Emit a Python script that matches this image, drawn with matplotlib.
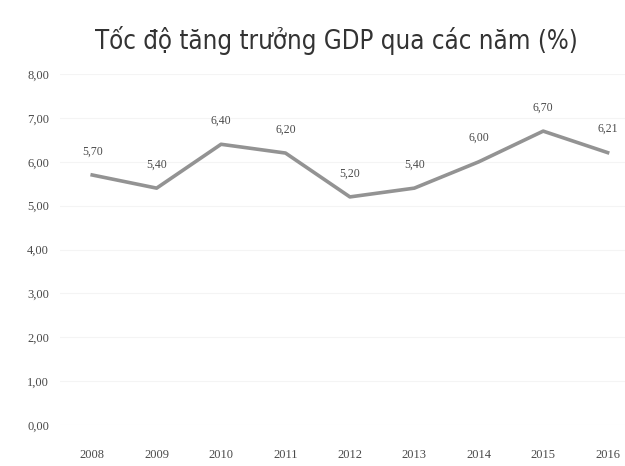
import matplotlib
matplotlib.use("Agg")
import matplotlib.pyplot as plt

# Tốc độ tăng trưởng GDP (%) theo năm
years = ["2008", "2009", "2010", "2011", "2012", "2013", "2014", "2015", "2016"]
growth = [5.70, 5.40, 6.40, 6.20, 5.20, 5.40, 6.00, 6.70, 6.21]
point_labels = ["5,70", "5,40", "6,40", "6,20", "5,20", "5,40", "6,00", "6,70", "6,21"]
y_ticks = [0, 1, 2, 3, 4, 5, 6, 7, 8]
y_tick_labels = ["0,00", "1,00", "2,00", "3,00", "4,00", "5,00", "6,00", "7,00", "8,00"]

LINE_C = "#939393"
TEXT_C = "#4a4a4a"

fig = plt.figure(figsize=(6.25, 4.66), dpi=100)
ax = fig.add_axes([0.096, 0.088, 0.904, 0.753])

x = list(range(len(years)))
ax.plot(x, growth, color=LINE_C, lw=2.6, solid_joinstyle="round")

for xi, yi, lab in zip(x, growth, point_labels):
    ax.annotate(lab, (xi, yi), xytext=(0, 17), textcoords="offset points",
                ha="center", va="center", fontsize=8.5,
                family="Liberation Serif", color=TEXT_C)

ax.set_ylim(0, 8)
ax.set_xlim(-0.5, 8.27)
ax.set_yticks(y_ticks)
ax.set_yticklabels(y_tick_labels, family="Liberation Serif", fontsize=9, color=TEXT_C)
ax.set_xticks(x)
ax.set_xticklabels(years, family="Liberation Serif", fontsize=9, color=TEXT_C)
ax.tick_params(axis="both", length=0)
ax.tick_params(axis="x", pad=17)
ax.tick_params(axis="y", pad=8)
ax.grid(axis="y", color="#f4f4f4", lw=0.8)
for s in ax.spines.values():
    s.set_visible(False)

fig.text(0.538, 0.913, "Tốc độ tăng trưởng GDP qua các năm (%)",
         ha="center", va="center", fontsize=18.5, color="#333333",
         family="DejaVu Sans", stretch="condensed")

fig.savefig("out.png", dpi=100)
